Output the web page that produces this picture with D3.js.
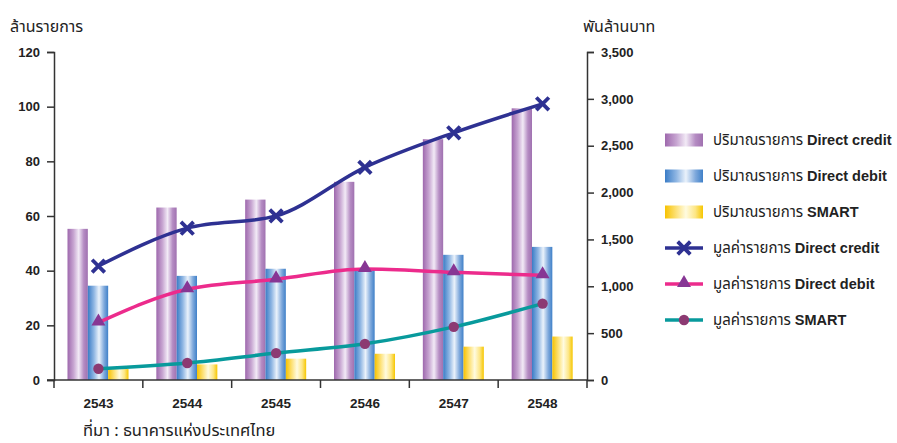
<!DOCTYPE html>
<html>
<head>
<meta charset="utf-8">
<script src="https://cdn.jsdelivr.net/npm/d3@7"></script>
<style>
  html, body { margin: 0; padding: 0; background: #fff; }
  svg { display: block; }
  .thai { font-family: "Noto Sans Thai", "Noto Sans", "DejaVu Sans", sans-serif; }
  .num { font-family: "Liberation Sans", Arial, sans-serif; font-weight: bold; }
</style>
</head>
<body>
<svg id="chart" width="897" height="443"></svg>
<script>
// Years (Buddhist era)
const years = ["2543", "2544", "2545", "2546", "2547", "2548"];

// Transaction volume, million transactions (left axis)
const volDirectCredit = [55.3, 63.1, 66.0, 72.5, 88.1, 99.4];
const volDirectDebit  = [34.5, 38.1, 40.7, 40.3, 45.8, 48.7];
const volSmart        = [4.0, 5.7, 7.8, 9.6, 12.2, 15.9];

// Transaction value, billion baht (right axis)
const valDirectCredit = [1216, 1620, 1751, 2269, 2638, 2947];
const valDirectDebit  = [613, 968, 1074, 1184, 1149, 1117];
const valSmart        = [120, 181, 287, 386, 567, 815];

const leftTicks  = [0, 20, 40, 60, 80, 100, 120];
const rightTicks = [0, 500, 1000, 1500, 2000, 2500, 3000, 3500];

const leftTitle  = "ล้านรายการ";
const rightTitle = "พันล้านบาท";
const sourceNote = "ที่มา : ธนาคารแห่งประเทศไทย";

const barSeries = [
  { label: "ปริมาณรายการ ", en: "Direct credit", values: volDirectCredit, grad: "gPurple" },
  { label: "ปริมาณรายการ ", en: "Direct debit",  values: volDirectDebit,  grad: "gBlue" },
  { label: "ปริมาณรายการ ", en: "SMART",         values: volSmart,        grad: "gYellow" }
];
const lineSeries = [
  { label: "มูลค่ารายการ ", en: "Direct credit", values: valDirectCredit, color: "#2e3192", marker: "cross",    mcolor: "#2e3192" },
  { label: "มูลค่ารายการ ", en: "Direct debit",  values: valDirectDebit,  color: "#ec2b8c", marker: "triangle", mcolor: "#873694" },
  { label: "มูลค่ารายการ ", en: "SMART",         values: valSmart,        color: "#089a9c", marker: "circle",   mcolor: "#8c3a72" }
];

const svg = d3.select("#chart");
const plot = { left: 54, right: 587, top: 52, bottom: 380 };

const x = d3.scaleBand().domain(years).range([plot.left, plot.right]);
const xInner = d3.scaleBand().domain(d3.range(barSeries.length)).range([13.5, 74.5]);
const yL = d3.scaleLinear().domain([0, 120]).range([plot.bottom, plot.top]);
const yR = d3.scaleLinear().domain([0, 3500]).range([plot.bottom, plot.top]);

// Cylindrical-looking gradients for the bars
const defs = svg.append("defs");
const gradDefs = {
  gPurple: ["#9e68ad", "#c7a5d1", "#f2eaf6", "#b58cc3", "#a071b0"],
  gBlue:   ["#3a7cc6", "#8fb6e3", "#eaf2fb", "#7fa9dc", "#3f80c8"],
  gYellow: ["#f7c200", "#fde27a", "#fffbe0", "#fde685", "#f6c600"]
};
Object.entries(gradDefs).forEach(([id, stops]) => {
  const g = defs.append("linearGradient").attr("id", id)
    .attr("x1", "0%").attr("x2", "100%").attr("y1", "0%").attr("y2", "0%");
  const offs = [0, 0.3, 0.55, 0.8, 1];
  stops.forEach((c, i) => g.append("stop").attr("offset", offs[i]).attr("stop-color", c));
});

// Bars
barSeries.forEach((s, si) => {
  svg.append("g").selectAll("rect").data(s.values).join("rect")
    .attr("x", (d, i) => x(years[i]) + xInner(si))
    .attr("width", xInner.bandwidth())
    .attr("y", d => yL(d))
    .attr("height", d => yL(0) - yL(d))
    .attr("fill", `url(#${s.grad})`);
});

// Axes
const axisColor = "#333";
const gL = svg.append("g").attr("transform", `translate(${plot.left},0)`)
  .call(d3.axisLeft(yL).tickValues(leftTicks).tickSize(7).tickPadding(7));
const gR = svg.append("g").attr("transform", `translate(${plot.right},0)`)
  .call(d3.axisRight(yR).tickValues(rightTicks).tickSize(7).tickPadding(7).tickFormat(d3.format(",")));
const gX = svg.append("g").attr("transform", `translate(0,${plot.bottom})`)
  .call(d3.axisBottom(x).tickValues([]).tickSizeOuter(0));
// category boundary ticks
svg.append("g").selectAll("line").data(d3.range(years.length + 1)).join("line")
  .attr("x1", i => plot.left + i * x.step()).attr("x2", i => plot.left + i * x.step())
  .attr("y1", plot.bottom).attr("y2", plot.bottom + 8)
  .attr("stroke", axisColor).attr("stroke-width", 1.5);
svg.append("g").selectAll("text").data(years).join("text")
  .attr("class", "num")
  .attr("x", d => x(d) + x.bandwidth() / 2)
  .attr("y", 408)
  .attr("text-anchor", "middle")
  .attr("font-size", 13.5)
  .attr("fill", "#222")
  .text(d => d);

[gL, gR, gX].forEach(g => {
  g.select(".domain").attr("stroke", axisColor).attr("stroke-width", 1.5);
  g.selectAll(".tick line").attr("stroke", axisColor).attr("stroke-width", 1.5);
  g.selectAll(".tick text").attr("class", "num").attr("font-size", 13).attr("fill", "#222");
});
gX.select(".domain").attr("d", `M${plot.left - 7},0H${plot.right}`);

// Value lines
lineSeries.forEach(s => {
  const pts = s.values.map((v, i) => [x(years[i]) + x.bandwidth() / 2, yR(v)]);
  svg.append("path")
    .attr("d", d3.line().curve(d3.curveMonotoneX)(pts))
    .attr("fill", "none").attr("stroke", s.color).attr("stroke-width", 3.5)
    .attr("stroke-linecap", "round");
  s.pts = pts;
});

function drawMarker(g, type, cx, cy, color) {
  if (type === "cross") {
    const r = 6.3;
    g.append("path")
      .attr("d", `M${cx - r},${cy - r}L${cx + r},${cy + r}M${cx - r},${cy + r}L${cx + r},${cy - r}`)
      .attr("stroke", color).attr("stroke-width", 3.8).attr("fill", "none");
  } else if (type === "triangle") {
    g.append("path")
      .attr("d", d3.symbol(d3.symbolTriangle, 85)())
      .attr("transform", `translate(${cx},${cy - 1})`)
      .attr("fill", color);
  } else {
    g.append("circle").attr("cx", cx).attr("cy", cy).attr("r", 5.2).attr("fill", color);
  }
}
lineSeries.forEach(s => {
  const g = svg.append("g");
  s.pts.forEach(p => drawMarker(g, s.marker, p[0], p[1], s.mcolor));
});

// Axis titles and source
svg.append("text").attr("class", "thai").attr("x", 10).attr("y", 32)
  .attr("font-size", 16).attr("fill", "#222").text(leftTitle);
svg.append("text").attr("class", "thai").attr("x", 583).attr("y", 32)
  .attr("font-size", 16).attr("fill", "#222").text(rightTitle);
svg.append("text").attr("class", "thai").attr("x", 83).attr("y", 436)
  .attr("font-size", 16.5).attr("fill", "#222").text(sourceNote);

// Legend
const legend = svg.append("g");
const lx = 665, lw = 38, ly0 = 140, lstep = 36;
const legendItems = barSeries.map(s => ({ ...s, kind: "bar" }))
  .concat(lineSeries.map(s => ({ ...s, kind: "line" })));
legendItems.forEach((s, i) => {
  const cy = ly0 + i * lstep;
  if (s.kind === "bar") {
    legend.append("rect").attr("x", lx).attr("y", cy - 6.5).attr("width", lw).attr("height", 13)
      .attr("fill", `url(#${s.grad})`);
  } else {
    legend.append("line").attr("x1", lx).attr("x2", lx + lw).attr("y1", cy).attr("y2", cy)
      .attr("stroke", s.color).attr("stroke-width", 3.5);
    drawMarker(legend, s.marker, lx + lw / 2, cy, s.mcolor);
  }
  const t = legend.append("text").attr("x", 713).attr("y", cy + 5)
    .attr("fill", "#222");
  t.append("tspan").attr("class", "thai").attr("font-size", 15).text(s.label);
  t.append("tspan").attr("class", "num").attr("font-size", 14.5).text(s.en);
});
</script>
</body>
</html>
